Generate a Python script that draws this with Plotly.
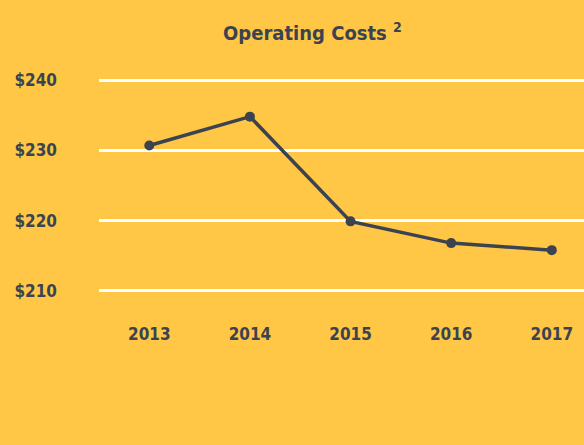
import plotly.graph_objects as go

years = ["2013", "2014", "2015", "2016", "2017"]
costs = [230.7, 234.8, 219.9, 216.8, 215.8]
y_ticks = [210, 220, 230, 240]
y_tick_labels = ["$210", "$220", "$230", "$240"]

BG = "#ffc745"
INK = "#3c4350"
FONT = "Liberation Sans Narrow, DejaVu Sans Condensed, Arial Narrow, sans-serif"

fig = go.Figure()
fig.add_trace(go.Scatter(
    x=years, y=costs, mode="lines+markers",
    line=dict(color=INK, width=3.5),
    marker=dict(color=INK, size=10),
    hoverinfo="skip",
))

fig.update_layout(
    width=584, height=445,
    paper_bgcolor=BG, plot_bgcolor=BG,
    showlegend=False,
    margin=dict(l=99, r=0, t=78, b=126),
    title=dict(
        text="<b>Operating Costs <sup>2</sup></b>",
        x=0.535, xanchor="center", xref="container",
        y=0.925, yanchor="middle", yref="container",
        font=dict(family=FONT, size=20, color=INK),
    ),
    font=dict(family=FONT, color=INK),
)
fig.update_xaxes(
    type="category", range=[-0.5, 4.32],
    showgrid=False, showline=False, zeroline=False,
    tickfont=dict(family=FONT, size=17, color=INK, weight="bold"),
    ticks="", ticklabelstandoff=3,
)
fig.update_yaxes(
    range=[206, 240.3],
    tickvals=y_ticks, ticktext=y_tick_labels,
    showgrid=True, gridcolor="white", gridwidth=2.5,
    showline=False, zeroline=False, ticks="",
    tickfont=dict(family=FONT, size=17, color=INK, weight="bold"),
    ticklabelstandoff=41,
)

fig.write_html(
    "out.html",
    config={"displayModeBar": False},
    post_script="document.body.style.margin='0';document.body.style.overflow='hidden';",
)
